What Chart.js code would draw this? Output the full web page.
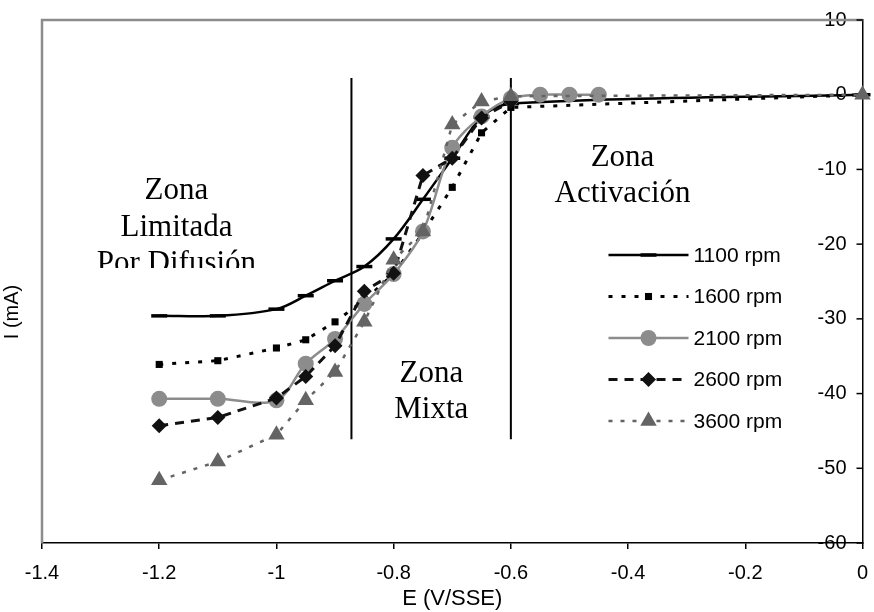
<!DOCTYPE html>
<html>
<head>
<meta charset="utf-8">
<title>Curvas de polarización</title>
<script src="https://cdn.jsdelivr.net/npm/chart.js@4.4.1/dist/chart.umd.min.js"></script>
<style>
  html, body { margin: 0; padding: 0; background: #fff; }
  #chart { display: block; }
</style>
</head>
<body>
<canvas id="chart" width="874" height="612"></canvas>
<script>
// Potential (V vs SSE) and measured current (mA) for each rotation speed
const potentials = [-1.2, -1.1, -1.0, -0.95, -0.9, -0.85, -0.8, -0.75, -0.7, -0.65, -0.6, -0.55, -0.5, -0.45, 0];
const rpm1100 = [-29.6, -29.6, -28.7, -26.9, -24.9, -23.0, -19.3, -14.0, -8.5, -3.0, -1.2, null, null, null, 0];
const rpm1600 = [-36.1, -35.6, -33.9, -32.8, -30.4, -27.5, -24.0, -18.5, -12.4, -5.1, -1.7, null, null, null, 0];
const rpm2100 = [-40.7, -40.7, -40.9, -36.0, -32.7, -28.0, -24.0, -18.3, -7.1, -2.9, -0.5, 0, 0, 0, null];
const rpm2600 = [-44.3, -43.2, -40.6, -37.7, -33.6, -26.3, -23.9, -10.8, -8.5, -3.1, -0.9, null, null, null, null];
const rpm3600 = [-51.6, -49.1, -45.5, -40.9, -37.1, -30.4, -22.1, -18.3, -4.0, -0.9, -0.2, null, null, null, 0];
const seriesLabels = ['1100 rpm', '1600 rpm', '2100 rpm', '2600 rpm', '3600 rpm'];

// Axis ranges
const eMin = -1.4, eMax = 0, eStep = 0.2;
const iMin = -60, iMax = 10, iStep = 10;

// Zone boundaries (E) and the span of the separator lines (I)
const zoneBounds = [-0.872, -0.6];
const zoneLineSpan = [2.25, -46.1];

// Zone captions, anchored at the first baseline (E, I)
const zoneCaptions = [
  { lines: ['Zona', 'Limitada', 'Por Difusión'], e: -1.1706, i: -13.96, clipI: -23.2 },
  { lines: ['Zona', 'Mixta'], e: -0.7357, i: -38.4 },
  { lines: ['Zona', 'Activación'], e: -0.4095, i: -9.5 }
];

const SANS = "'Liberation Sans', Arial, sans-serif";
const SERIF = "'Liberation Serif', 'Times New Roman', serif";
Chart.defaults.font.family = SANS;
Chart.defaults.color = '#000';

function toPoints(values) {
  return potentials.map((e, k) => ({ x: e, y: values[k] }));
}

const seriesStyles = [
  { color: '#000', width: 2.5, dash: [], tension: 0.33, style: 'line', radius: 8, pBorder: 3.5 },
  { color: '#000', width: 3, dash: [4, 9], tension: 0, style: 'rect', radius: 5, pBorder: 0 },
  { color: '#8c8c8c', width: 2.5, dash: [], tension: 0.33, style: 'circle', radius: 8, pBorder: 0 },
  { color: '#111', width: 3, dash: [9, 7], tension: 0, style: 'rectRot', radius: 7.5, pBorder: 0 },
  { color: '#646464', width: 2.5, dash: [4, 8], tension: 0, style: 'triangle', radius: 9.5, pBorder: 0 }
];
const seriesValues = [rpm1100, rpm1600, rpm2100, rpm2600, rpm3600];

const datasets = seriesValues.map((vals, k) => {
  const s = seriesStyles[k];
  return {
    label: seriesLabels[k],
    data: toPoints(vals),
    showLine: true,
    spanGaps: true,
    clip: false,
    order: 5 - k,
    borderColor: s.color,
    borderWidth: s.width,
    borderDash: s.dash,
    tension: s.tension,
    pointStyle: s.style,
    pointRadius: s.radius,
    pointBackgroundColor: s.color,
    pointBorderColor: s.color,
    pointBorderWidth: s.pBorder
  };
});

// Vertical separators between the zones
zoneBounds.forEach(e => {
  datasets.push({
    label: '',
    data: [{ x: e, y: zoneLineSpan[0] }, { x: e, y: zoneLineSpan[1] }],
    showLine: true,
    clip: false,
    order: 10,
    borderColor: '#000',
    borderWidth: 2,
    pointRadius: 0
  });
});

const overlay = {
  id: 'overlay',
  beforeDatasetsDraw(chart) {
    const { ctx, chartArea: a } = chart;
    // grey plot frame on the top and left
    ctx.save();
    ctx.strokeStyle = '#8c8c8c';
    ctx.lineWidth = 2.5;
    ctx.beginPath();
    ctx.moveTo(a.left, a.bottom);
    ctx.lineTo(a.left, a.top);
    ctx.lineTo(a.right, a.top);
    ctx.stroke();

    // inward tick marks on the right-hand current axis
    const ys = chart.scales.y;
    ctx.strokeStyle = '#000';
    ctx.lineWidth = 1.5;
    ys.ticks.forEach(t => {
      const py = ys.getPixelForValue(t.value);
      ctx.beginPath();
      ctx.moveTo(a.right - 6, py);
      ctx.lineTo(a.right, py);
      ctx.stroke();
    });
    ctx.restore();
  },
  afterDraw(chart) {
    const { ctx, chartArea: a, scales } = chart;
    ctx.save();

    // zone captions
    ctx.font = '31px ' + SERIF;
    ctx.fillStyle = '#000';
    ctx.textAlign = 'center';
    ctx.textBaseline = 'alphabetic';
    zoneCaptions.forEach(z => {
      const px = scales.x.getPixelForValue(z.e);
      const py = scales.y.getPixelForValue(z.i);
      ctx.save();
      if (z.clipI !== undefined) {
        ctx.beginPath();
        ctx.rect(a.left, a.top, a.right - a.left, scales.y.getPixelForValue(z.clipI) - a.top);
        ctx.clip();
      }
      z.lines.forEach((txt, n) => ctx.fillText(txt, px, py + n * 36.5));
      ctx.restore();
    });

    // legend inside the plot
    const lx = a.right - 254, ly = 255, gap = 41.5, len = 80;
    ctx.font = '21px ' + SANS;
    ctx.textAlign = 'left';
    ctx.textBaseline = 'middle';
    chart.data.datasets.slice(0, seriesLabels.length).forEach((ds, k) => {
      const y = ly + k * gap;
      ctx.save();
      ctx.strokeStyle = ds.borderColor;
      ctx.lineWidth = ds.borderWidth;
      ctx.setLineDash(ds.borderDash);
      ctx.beginPath();
      ctx.moveTo(lx, y);
      ctx.lineTo(lx + len, y);
      ctx.stroke();
      ctx.setLineDash([]);
      ctx.fillStyle = ds.pointBackgroundColor;
      ctx.strokeStyle = ds.pointBorderColor;
      ctx.lineWidth = ds.pointBorderWidth;
      Chart.helpers.drawPoint(ctx, {
        pointStyle: ds.pointStyle,
        radius: ds.pointRadius,
        borderWidth: ds.pointBorderWidth,
        rotation: 0
      }, lx + len / 2, y);
      ctx.restore();
      ctx.fillStyle = '#000';
      ctx.fillText(ds.label, lx + len + 5, y + 1);
    });

    // current axis title
    ctx.translate(12, 312);
    ctx.rotate(-Math.PI / 2);
    ctx.textAlign = 'center';
    ctx.font = '20px ' + SANS;
    ctx.fillText('I (mA)', 0, 0);
    ctx.restore();
  }
};

new Chart(document.getElementById('chart'), {
  type: 'scatter',
  data: { datasets: datasets },
  options: {
    responsive: false,
    animation: false,
    devicePixelRatio: 1,
    layout: { padding: { left: 42, top: 20, right: 0, bottom: 0 } },
    plugins: {
      legend: { display: false },
      tooltip: { enabled: false }
    },
    scales: {
      x: {
        type: 'linear',
        position: 'bottom',
        min: eMin,
        max: eMax,
        ticks: {
          stepSize: eStep,
          autoSkip: false,
          maxRotation: 0,
          padding: 12,
          font: { size: 20 },
          callback: v => String(Math.round(v * 10) / 10 || 0)
        },
        grid: { drawOnChartArea: false, tickLength: 6, color: '#000', lineWidth: 1.5 },
        border: { color: '#000', width: 1.5 },
        title: { display: true, text: 'E (V/SSE)', font: { size: 22 }, padding: 0 },
        afterFit: s => { s.height = 69; s.paddingLeft = 0; s.paddingRight = 0; }
      },
      y: {
        type: 'linear',
        position: 'right',
        min: iMin,
        max: iMax,
        ticks: {
          stepSize: iStep,
          mirror: true,
          padding: -16,
          font: { size: 20 }
        },
        grid: { drawOnChartArea: false, drawTicks: false },
        border: { color: '#000', width: 1.5 },
        afterFit: s => { s.width = 8; }
      }
    }
  },
  plugins: [overlay]
});
</script>
</body>
</html>
